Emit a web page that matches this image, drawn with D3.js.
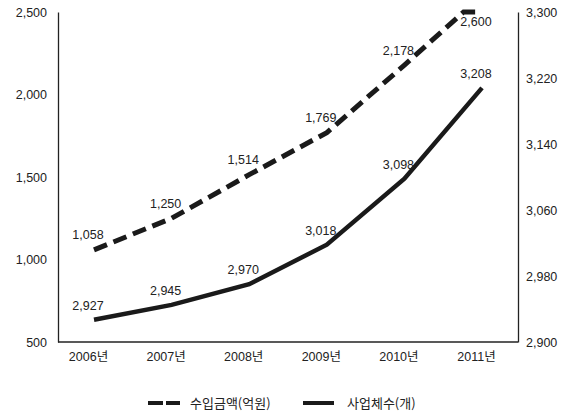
<!DOCTYPE html>
<html>
<head>
<meta charset="utf-8">
<script src="https://cdn.jsdelivr.net/npm/d3@7"></script>
<style>
  html, body { margin: 0; padding: 0; background: #fff; }
  svg { display: block; }
  text { font-family: "Liberation Sans", Arial, "Noto Sans CJK KR", sans-serif; fill: #222; }
</style>
</head>
<body>
<svg id="chart" width="566" height="414"></svg>
<script>
// ---- data ----
const years = ["2006년", "2007년", "2008년", "2009년", "2010년", "2011년"];
const revenue = [1058, 1250, 1514, 1769, 2178, 2600];      // 수입금액(억원) - left axis
const firms = [2927, 2945, 2970, 3018, 3098, 3208];        // 사업체수(개) - right axis
const leftTicks = [500, 1000, 1500, 2000, 2500];
const rightTicks = [2900, 2980, 3060, 3140, 3220, 3300];
const seriesNames = ["수입금액(억원)", "사업체수(개)"];

// ---- layout ----
const W = 566, H = 414;
const plot = { left: 58, right: 518, top: 12, bottom: 342 };
const labelShift = -6;
const svg = d3.select("#chart");
const fmt = d3.format(",");

const x = d3.scalePoint().domain(years).range([94, 482]);
const yL = d3.scaleLinear().domain([500, 2500]).range([plot.bottom, plot.top]);
const yR = d3.scaleLinear().domain([2900, 3300]).range([plot.bottom, plot.top]);

// ---- axes ----
const axisColor = "#222";
const gL = svg.append("g").attr("transform", `translate(${plot.left},0)`)
  .call(d3.axisLeft(yL).tickValues(leftTicks).tickSize(0).tickSizeOuter(0).tickPadding(11).tickFormat(fmt));
const gR = svg.append("g").attr("transform", `translate(${plot.right},0)`)
  .call(d3.axisRight(yR).tickValues(rightTicks).tickSize(0).tickSizeOuter(0).tickPadding(8).tickFormat(fmt));
const gB = svg.append("g").attr("transform", `translate(0,${plot.bottom})`)
  .call(d3.axisBottom(x).tickSize(0).tickPadding(10));
gB.select(".domain").remove();
gB.selectAll("text").attr("dx", labelShift);
svg.append("line").attr("x1", plot.left).attr("x2", plot.right)
  .attr("y1", plot.bottom).attr("y2", plot.bottom)
  .attr("stroke", axisColor).attr("stroke-width", 1.3);
[gL, gR].forEach(g => g.select(".domain").attr("stroke", axisColor).attr("stroke-width", 1.3));
[gL, gR, gB].forEach(g => g.selectAll("text")
  .style("font-family", "'Liberation Sans', Arial, 'Noto Sans CJK KR', sans-serif")
  .style("font-size", "12.5px").attr("fill", "#222"));

// ---- revenue (dashed, clamped at top of plot) ----
function clampedPoints(vals, scale) {
  const raw = vals.map((v, i) => [x(years[i]), scale(v)]);
  const out = [];
  raw.forEach((p, i) => {
    if (i > 0) {
      const q = raw[i - 1];
      if ((q[1] - plot.top) * (p[1] - plot.top) < 0) {
        const t = (plot.top - q[1]) / (p[1] - q[1]);
        out.push([q[0] + t * (p[0] - q[0]), plot.top]);
      }
    }
    out.push([p[0], Math.max(p[1], plot.top)]);
  });
  return out;
}
const line = d3.line();
svg.append("path")
  .attr("d", line(clampedPoints(revenue, yL)))
  .attr("fill", "none").attr("stroke", "#1a1a1a").attr("stroke-width", 5)
  .attr("stroke-dasharray", "14,7");

// ---- firms (solid) ----
svg.append("path")
  .attr("d", line(firms.map((v, i) => [x(years[i]), yR(v)])))
  .attr("fill", "none").attr("stroke", "#1a1a1a").attr("stroke-width", 4.5)
  .attr("stroke-linejoin", "miter");

// ---- data labels ----
const lblFont = "12.5px";
svg.append("g").selectAll("text").data(revenue).join("text")
  .attr("x", (d, i) => x(years[i]) + labelShift)
  .attr("y", d => Math.max(yL(d) - 15, plot.top + 10))
  .attr("text-anchor", "middle").attr("dy", "0.35em")
  .style("font-size", lblFont)
  .text(d => fmt(d));
svg.append("g").selectAll("text").data(firms).join("text")
  .attr("x", (d, i) => x(years[i]) + labelShift)
  .attr("y", d => yR(d) - 14.5)
  .attr("text-anchor", "middle").attr("dy", "0.35em")
  .style("font-size", lblFont)
  .text(d => fmt(d));

// ---- legend ----
const ly = 403;
const leg = svg.append("g");
leg.append("line").attr("x1", 148).attr("x2", 180).attr("y1", ly).attr("y2", ly)
  .attr("stroke", "#1a1a1a").attr("stroke-width", 4).attr("stroke-dasharray", "15,3");
leg.append("text").attr("x", 190).attr("y", ly).attr("dy", "0.35em")
  .style("font-family", "'Noto Sans CJK KR', sans-serif").style("font-size", "13px")
  .text(seriesNames[0]);
leg.append("line").attr("x1", 303).attr("x2", 334).attr("y1", ly).attr("y2", ly)
  .attr("stroke", "#1a1a1a").attr("stroke-width", 4);
leg.append("text").attr("x", 347).attr("y", ly).attr("dy", "0.35em")
  .style("font-family", "'Noto Sans CJK KR', sans-serif").style("font-size", "13px")
  .text(seriesNames[1]);
</script>
</body>
</html>
